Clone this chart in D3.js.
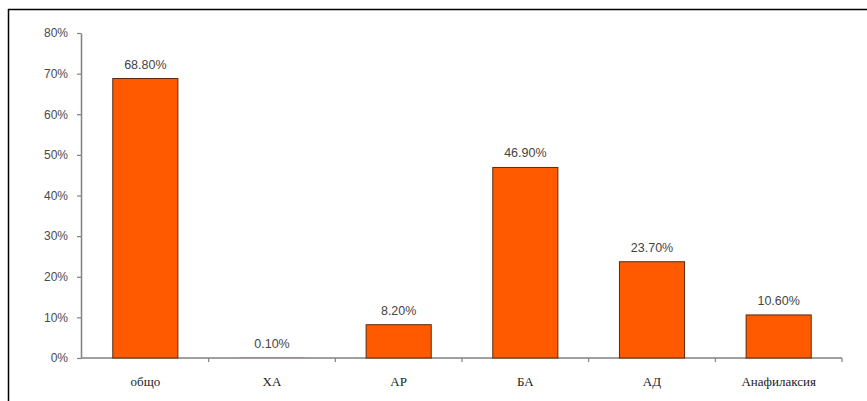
<!DOCTYPE html>
<html><head><meta charset="utf-8">
<script src="https://cdn.jsdelivr.net/npm/d3@7"></script>
<style>body{margin:0;background:#fff}svg{display:block}</style>
</head><body>
<svg id="c" width="867" height="401"></svg>
<script>
const categories = ["общо","ХА","АР","БА","АД","Анафилаксия"];
const values = [68.8, 0.1, 8.2, 46.9, 23.7, 10.6];
const valueLabels = ["68.80%","0.10%","8.20%","46.90%","23.70%","10.60%"];
const yTicks = [0,10,20,30,40,50,60,70,80];

const svg = d3.select("#c");
// frame (partial, as in reference)
svg.append("line").attr("x1",8).attr("x2",867).attr("y1",9.5).attr("y2",9.5).attr("stroke","#000").attr("stroke-width",1.5);
svg.append("line").attr("x1",8.5).attr("x2",8.5).attr("y1",9).attr("y2",401).attr("stroke","#000").attr("stroke-width",1.5);

const x = d3.scaleBand().domain(categories).range([82,842]).paddingInner(0.486).paddingOuter(0.243);
const xb = d3.scaleBand().domain(categories).range([82,842]);
const y = d3.scaleLinear().domain([0,80]).range([358,33]);

const axisColor = "#808080";
// y axis
const ya = svg.append("g").attr("transform","translate(81,0)")
  .call(d3.axisLeft(y).tickValues(yTicks).tickFormat(d=>d+"%").tickSize(4).tickSizeOuter(0));
ya.select(".domain").attr("stroke",axisColor).attr("stroke-width",1.5);
ya.selectAll(".tick line").attr("stroke",axisColor).attr("stroke-width",1.2);
ya.selectAll(".tick text").attr("x",-13).attr("fill","#4a4a4a").attr("font-family","Arial, 'Liberation Sans', sans-serif").attr("font-size",12);

// x axis line and ticks at band boundaries
const xg = svg.append("g");
xg.append("line").attr("x1",81).attr("x2",842).attr("y1",y(0)).attr("y2",y(0)).attr("stroke",axisColor).attr("stroke-width",1.5);
const bounds = categories.map(c=>xb(c)).concat([xb(categories[categories.length-1])+xb.bandwidth()]).slice(1);
xg.selectAll("line.tk").data(bounds).enter().append("line").attr("class","tk")
  .attr("x1",d=>d).attr("x2",d=>d).attr("y1",y(0)).attr("y2",y(0)+4).attr("stroke",axisColor).attr("stroke-width",1.2);
xg.selectAll("text").data(categories).enter().append("text")
  .attr("x",d=>xb(d)+xb.bandwidth()/2).attr("y",386).attr("text-anchor","middle")
  .attr("font-family","'Liberation Serif','Times New Roman',serif").attr("font-size",13).attr("fill","#222")
  .text(d=>d);

// bars
svg.selectAll("rect.bar").data(values).enter().append("rect").attr("class","bar")
  .attr("x",(d,i)=>x(categories[i])).attr("width",x.bandwidth())
  .attr("y",d=>y(d)).attr("height",d=>y(0)-y(d))
  .attr("fill","#FF5A00").attr("stroke",d=>y(0)-y(d) < 2 ? "none" : "#5a2a10").attr("stroke-width",1);

// value labels
svg.selectAll("text.vl").data(values).enter().append("text").attr("class","vl")
  .attr("x",(d,i)=>xb(categories[i])+xb.bandwidth()/2).attr("y",d=>y(d)-10)
  .attr("text-anchor","middle").attr("fill","#444")
  .attr("font-family","Arial, 'Liberation Sans', sans-serif").attr("font-size",12.5)
  .text((d,i)=>valueLabels[i]);
</script>
</body></html>
